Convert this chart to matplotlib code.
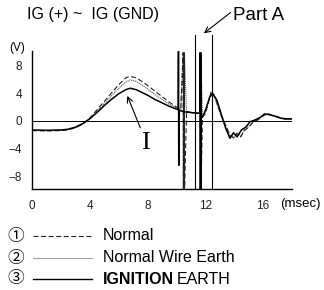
import matplotlib
matplotlib.use("Agg")
import matplotlib.pyplot as plt
from matplotlib.lines import Line2D

plt.rcParams['font.family'] = ['Liberation Sans', 'DejaVu Sans', 'Noto Sans CJK JP']

# ---- data (ms, V) ----
t_ign = [0, 1, 2, 2.5, 3, 3.5, 4, 4.5, 5, 5.5, 6, 6.5, 6.8, 7.2, 7.6, 8, 8.5, 9, 9.5, 10.0,
         10.12, 10.14, 10.16, 10.2, 10.6, 11.0, 11.5, 11.62, 11.64, 11.66, 11.68, 11.70, 11.72,
         11.8, 12.0, 12.15, 12.3, 12.5, 12.8, 13.1, 13.4, 13.7, 13.95, 14.2, 14.5, 14.8, 15.1,
         15.4, 15.8, 16.1, 16.4, 16.8, 17.2, 17.6, 18]
v_ign = [-1.3, -1.35, -1.3, -1.2, -0.9, -0.4, 0.3, 1.2, 2.2, 3.1, 3.9, 4.5, 4.7, 4.5, 4.1, 3.7, 3.1, 2.6, 2.1, 1.7,
         1.6, 10.0, -6.4, 1.5, 1.3, 1.2, 1.1, 1.1, 9.8, -10, 9.8, -10, 1.0,
         0.5, 1.5, 2.4, 3.4, 3.9, 3.0, 1.0, -1.0, -2.5, -1.7, -2.3, -1.3, -0.9, -0.1,
         0.1, 0.5, 1.0, 0.9, 0.7, 0.4, 0.3, 0.3]

t_norm = [0, 1, 2, 2.5, 3, 3.5, 4, 4.5, 5, 5.5, 6, 6.5, 6.8, 7.2, 7.6, 8, 8.5, 9, 9.5, 10.0, 10.3,
          10.46, 10.48, 10.50, 10.52, 10.54, 10.56, 10.7, 11.0, 11.5, 11.62, 11.64, 11.66, 11.68, 11.70,
          11.8, 12.0, 12.2, 12.4, 12.6, 12.8, 13.1, 13.4, 13.7, 14.0, 14.2, 14.45, 14.7, 15.0, 15.3,
          15.6, 16.0, 16.3, 16.6, 17.0, 17.4, 17.8, 18]
v_norm = [-1.4, -1.45, -1.4, -1.3, -1.0, -0.5, 0.4, 1.6, 2.8, 4.0, 5.2, 6.2, 6.4, 6.2, 5.7, 5.1, 4.3, 3.5, 2.7, 2.0, 1.7,
          9.8, -10, 9.8, -10, 9.8, -10, 1.4, 1.2, 1.1, 1.1, 9.8, -10, 9.8, -10,
          0.6, 1.0, 2.5, 4.2, 3.8, 2.6, 0.8, -0.6, -2.0, -2.5, -1.8, -2.3, -1.4, -0.9, -0.2,
          0.1, 0.7, 1.1, 0.8, 0.6, 0.3, 0.2, 0.3]

t_wire = [0, 1, 2, 2.5, 3, 3.5, 4, 4.5, 5, 5.5, 6, 6.5, 6.8, 7.2, 7.6, 8, 8.5, 9, 9.5, 10.0, 10.3,
          10.47, 10.49, 10.51, 10.53, 10.55, 10.7, 11.0, 11.5, 11.63, 11.65, 11.67, 11.69,
          11.8, 12.0, 12.2, 12.4, 12.6, 12.8, 13.1, 13.4, 13.7, 14.0, 14.2, 14.45, 14.7, 15.0, 15.3,
          15.6, 16.0, 16.3, 16.6, 17.0, 17.4, 17.8, 18]
v_wire = [-1.35, -1.4, -1.35, -1.25, -0.95, -0.45, 0.35, 1.4, 2.5, 3.6, 4.7, 5.6, 5.9, 5.7, 5.2, 4.6, 3.8, 3.1, 2.4, 1.9, 1.6,
          9.8, -10, 9.8, -10, 9.8, 1.3, 1.15, 1.1, 1.1, 9.8, -10, 9.8,
          0.7, 1.2, 2.8, 4.0, 3.6, 2.4, 0.6, -0.8, -2.2, -2.4, -1.7, -2.2, -1.3, -0.8, -0.1,
          0.1, 0.8, 1.0, 0.8, 0.5, 0.3, 0.2, 0.3]

partA_lines = [11.27, 12.43]
partA_top = 12.3

x_ticks = [0, 4, 8, 12, 16]
y_ticks = [-8, -4, 0, 4, 8]
legend_nums = ['①', '②', '③']
legend_labels = ['Normal', 'Normal Wire Earth', 'EARTH']

# ---- figure ----
fig = plt.figure(figsize=(3.24, 2.90), dpi=100)
ax = fig.add_axes([32/324, 1-189/290, 260/324, (189-50.7)/290])
ax.set_xlim(0, 18)
ax.set_ylim(-9.8, 10.1)

dash_style = (0, (4.5, 2.3))
dot_style = (0, (1, 0.8))
ax.plot(t_wire, v_wire, color='#555555', lw=0.8, ls=dot_style)
ax.plot(t_norm, v_norm, color='#222222', lw=0.8, ls=dash_style)
ax.plot(t_ign, v_ign, color='black', lw=1.1)

ax.axhline(0, color='black', lw=0.7)
for xl in partA_lines:
    ax.plot([xl, xl], [-9.8, partA_top], color='black', lw=0.8, clip_on=False)

for s in ['top', 'right']:
    ax.spines[s].set_visible(False)
for s in ['left', 'bottom']:
    ax.spines[s].set_linewidth(1.0)
ax.set_xticks(x_ticks)
ax.set_yticks(y_ticks)
ax.tick_params(length=0, labelsize=8.5, colors='#222222')
ax.tick_params(axis='x', pad=8)
ax.tick_params(axis='y', pad=7)

# I annotation
ax.text(7.85, -3.2, 'I', family='Liberation Serif', fontsize=19, ha='center', va='center')
ax.annotate('', xy=(6.6, 3.6), xytext=(7.5, -1.0),
            arrowprops=dict(arrowstyle='->', lw=0.8, color='black', shrinkA=0, shrinkB=0))

# Part A
ax.annotate('', xy=(11.9, 12.6), xytext=(13.75, 15.6), annotation_clip=False,
            arrowprops=dict(arrowstyle='->', lw=0.8, color='black', shrinkA=0, shrinkB=0))
ax.text(13.95, 15.2, 'Part A', fontsize=13.5, ha='left', va='center', clip_on=False)

fig.text(27/324, 1-15/290, 'IG (+) ~  IG (GND)', fontsize=11.5, ha='left', va='center')
fig.text(9/324, 1-48/290, '(V)', fontsize=8.5, ha='left', va='center')
fig.text(280/324, 1-204/290, '(msec)', fontsize=9.5, ha='left', va='center')

# legend
rows_y = [236, 258, 279]
styles = [dict(color='#222222', lw=0.8, ls=dash_style),
          dict(color='#555555', lw=0.8, ls=dot_style),
          dict(color='black', lw=1.0)]
for num, lab, yy, st in zip(legend_nums, legend_labels, rows_y, styles):
    yf = 1 - yy/290
    fig.text(16/324, yf, num, fontsize=12, ha='center', va='center',
             family=['Noto Sans CJK JP', 'DejaVu Sans'])
    fig.add_artist(Line2D([33/324, 92/324], [yf, yf], transform=fig.transFigure, **st))
    if lab == 'EARTH':
        t1 = fig.text(103/324, yf, 'IGNITION', fontsize=11.5, fontweight='bold', ha='left', va='center')
        fig.canvas.draw()
        bb = t1.get_window_extent()
        fig.text(bb.x1/324 + 3/324, yf, 'EARTH', fontsize=11.5, ha='left', va='center')
    else:
        fig.text(103/324, yf, lab, fontsize=11.5, ha='left', va='center')

fig.savefig('out.png', dpi=100)
